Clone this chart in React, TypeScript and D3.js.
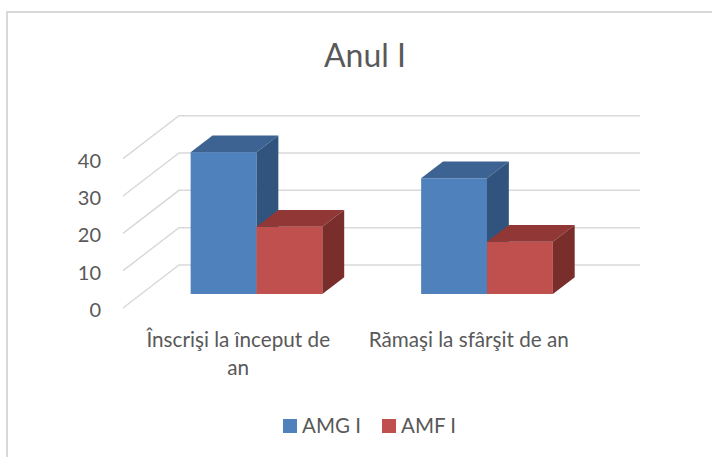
import * as d3 from 'd3';

const categories = ['Înscrişi la început de an', 'Rămaşi la sfârşit de an'];
const categoryLines = [['Înscrişi la început de', 'an'], ['Rămaşi la sfârşit de an']];
const seriesNames = ['AMG I', 'AMF I'];
const amgValues = [38, 31];
const amfValues = [18, 14];
const valueTicks = [0, 10, 20, 30, 40];

const width = 712;
const height = 457;
const frontLeft = 123;
const frontRight = 584;
const frontBase = 308;
// oblique depth vector from the front of the floor to the back wall
const depthX = 56;
const depthY = -43;
const barDepthStart = 0.326;
const barDepthSize = 0.39;
const textColor = '#595959';
const gridColor = '#D9D9D9';
const font = 'Lato, "Open Sans", sans-serif';

const palette = [
  { front: '#4F81BD', top: '#3C6391', side: '#31547F' },
  { front: '#C0504D', top: '#913836', side: '#7A2E2C' },
];

const App = (): React.ReactElement => {
  const series = [amgValues, amfValues];

  const x0 = d3
    .scaleBand()
    .domain(categories)
    .range([frontLeft, frontRight])
    .paddingInner(1.5 / 3.5)
    .paddingOuter(0.75 / 3.5);
  const x1 = d3.scaleBand().domain(seriesNames).range([0, x0.bandwidth()]);
  const y = d3.scaleLinear().domain([0, 40]).range([frontBase, frontBase - 149.3]);

  const ox = barDepthStart * depthX;
  const oy = barDepthStart * depthY;
  const bdx = barDepthSize * depthX;
  const bdy = barDepthSize * depthY;

  const bars: React.ReactElement[] = [];
  categories.forEach((cat, ci) => {
    seriesNames.forEach((s, si) => {
      const v = series[si][ci];
      const x = (x0(cat) ?? 0) + (x1(s) ?? 0) + ox;
      const w = x1.bandwidth();
      const yb = y(0) + oy;
      const yt = y(v) + oy;
      const c = palette[si];
      const pts = (p: number[][]) => p.map((d) => d.join(',')).join(' ');
      bars.push(
        <g key={cat + s}>
          <rect x={x} y={yt} width={w} height={yb - yt} fill={c.front} />
          <polygon
            points={pts([
              [x, yt],
              [x + w, yt],
              [x + w + bdx, yt + bdy],
              [x + bdx, yt + bdy],
            ])}
            fill={c.top}
          />
          <polygon
            points={pts([
              [x + w, yt],
              [x + w + bdx, yt + bdy],
              [x + w + bdx, yb + bdy],
              [x + w, yb],
            ])}
            fill={c.side}
          />
        </g>,
      );
    });
  });

  return (
    <svg
      width={width}
      height={height}
      style={{ position: 'absolute', left: 0, top: 0, background: '#fff' }}
      fontFamily={font}
    >
      <rect x={7} y={12} width={800} height={600} fill="#fff" stroke={gridColor} strokeWidth={2} />

      <text x={365} y={67} textAnchor="middle" fontSize={32} fill={textColor}>
        Anul I
      </text>

      <g stroke={gridColor} strokeWidth={1.5} fill="none">
        {valueTicks.map((t) => (
          <polyline
            key={t}
            points={`${frontLeft},${y(t)} ${frontLeft + depthX},${y(t) + depthY} ${frontRight + depthX},${y(t) + depthY}`}
          />
        ))}
      </g>

      <g fontSize={20} fill={textColor} textAnchor="end">
        {valueTicks.map((t) => (
          <text key={t} x={101} y={y(t) + 2} dy="0.35em">
            {t}
          </text>
        ))}
      </g>

      {bars}

      <g fontSize={20.7} fill={textColor} textAnchor="middle">
        {categories.map((cat, i) => (
          <text key={cat} x={(x0(cat) ?? 0) + x0.bandwidth() / 2} y={347}>
            {categoryLines[i].map((line, li) => (
              <tspan key={li} x={(x0(cat) ?? 0) + x0.bandwidth() / 2} dy={li === 0 ? 0 : 28}>
                {line}
              </tspan>
            ))}
          </text>
        ))}
      </g>

      <g fontSize={20.5} fill={textColor}>
        {seriesNames.map((s, i) => (
          <g key={s} transform={`translate(${283 + i * 99},419)`}>
            <rect width={14} height={14} fill={palette[i].front} />
            <text x={19} y={14}>
              {s}
            </text>
          </g>
        ))}
      </g>
    </svg>
  );
};

export default App;
